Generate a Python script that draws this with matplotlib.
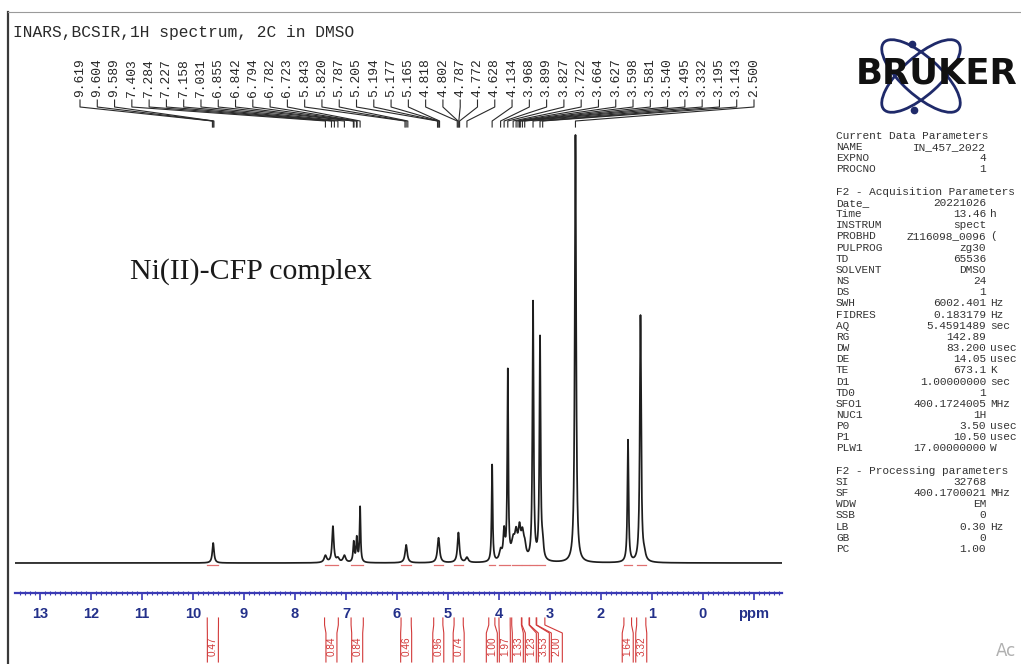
import numpy as np
import matplotlib
matplotlib.use("Agg")
import matplotlib.pyplot as plt
from matplotlib.patches import Ellipse
from matplotlib.ticker import MultipleLocator, FixedLocator, FixedFormatter

# ---------------------------------------------------------------- data
# resolved signals of the 1H spectrum: shift (ppm), height, half width (ppm)
peak_ppm = [9.604, 7.403, 7.256, 7.158, 7.031, 6.848, 6.788, 6.723, 5.820,
            5.185, 4.795, 4.628, 4.134, 3.968, 3.899, 3.827, 3.722, 3.664,
            3.598, 3.540, 3.495, 3.332, 3.195, 3.143, 2.500, 1.470, 1.225,
            1.150]
peak_height = [20, 7, 36, 4, 7, 20, 24, 55, 18,
               25, 30, 5, 97, 10, 28, 188, 18, 22,
               28, 22, 12, 258, 222, 15, 428, 122, 247,
               6]
peak_hwhm = [0.02, 0.03, 0.02, 0.03, 0.03, 0.015, 0.015, 0.012, 0.025,
             0.025, 0.022, 0.03, 0.012, 0.03, 0.02, 0.012, 0.04, 0.03,
             0.03, 0.03, 0.03, 0.014, 0.014, 0.02, 0.016, 0.014, 0.016,
             0.03]

# picked peak list
shift_labels = ["9.619", "9.604", "9.589", "7.403", "7.284", "7.227", "7.158",
                "7.031", "6.855", "6.842", "6.794", "6.782", "6.723", "5.843",
                "5.820", "5.787", "5.205", "5.194", "5.177", "5.165", "4.818",
                "4.802", "4.787", "4.772", "4.628", "4.134", "3.968", "3.899",
                "3.827", "3.722", "3.664", "3.627", "3.598", "3.581", "3.540",
                "3.495", "3.332", "3.195", "3.143", "2.500"]

# integrals: value and ppm range
integral_values = ["0.47", "0.84", "0.84", "0.46", "0.96", "0.74", "1.00",
                   "1.97", "1.33", "1.23", "3.53", "2.00", "1.64", "3.32"]
integral_start = [9.72, 7.42, 6.90, 5.92, 5.28, 4.88, 4.20, 4.00, 3.75, 3.55,
                  3.40, 3.26, 1.55, 1.30]
integral_end = [9.50, 7.15, 6.66, 5.72, 5.10, 4.70, 4.08, 3.78, 3.56, 3.41,
                3.27, 3.10, 1.40, 1.12]

tick_values = [13, 12, 11, 10, 9, 8, 7, 6, 5, 4, 3, 2, 1, 0, -1]
tick_labels = ["13", "12", "11", "10", "9", "8", "7", "6", "5", "4", "3",
               "2", "1", "0", "ppm"]

title_text = "INARS,BCSIR,1H spectrum, 2C in DMSO"
sample_text = "Ni(II)-CFP complex"

param_rows = [
    ("Current Data Parameters", "", ""),
    ("NAME", "IN_457_2022", ""),
    ("EXPNO", "4", ""),
    ("PROCNO", "1", ""),
    None,
    ("F2 - Acquisition Parameters", "", ""),
    ("Date_", "20221026", ""),
    ("Time", "13.46", "h"),
    ("INSTRUM", "spect", ""),
    ("PROBHD", "Z116098_0096", "("),
    ("PULPROG", "zg30", ""),
    ("TD", "65536", ""),
    ("SOLVENT", "DMSO", ""),
    ("NS", "24", ""),
    ("DS", "1", ""),
    ("SWH", "6002.401", "Hz"),
    ("FIDRES", "0.183179", "Hz"),
    ("AQ", "5.4591489", "sec"),
    ("RG", "142.89", ""),
    ("DW", "83.200", "usec"),
    ("DE", "14.05", "usec"),
    ("TE", "673.1", "K"),
    ("D1", "1.00000000", "sec"),
    ("TD0", "1", ""),
    ("SFO1", "400.1724005", "MHz"),
    ("NUC1", "1H", ""),
    ("P0", "3.50", "usec"),
    ("P1", "10.50", "usec"),
    ("PLW1", "17.00000000", "W"),
    None,
    ("F2 - Processing parameters", "", ""),
    ("SI", "32768", ""),
    ("SF", "400.1700021", "MHz"),
    ("WDW", "EM", ""),
    ("SSB", "0", ""),
    ("LB", "0.30", "Hz"),
    ("GB", "0", ""),
    ("PC", "1.00", ""),
]

# ---------------------------------------------------------------- layout
W, H = 1021, 664
fig = plt.figure(figsize=(W / 100, H / 100), dpi=100)
fig.patch.set_facecolor("white")

# overlay in pixel units for frame, logo and parameter block
deco = fig.add_axes([0, 0, 1, 1])
deco.set_xlim(0, W)
deco.set_ylim(H, 0)
deco.axis("off")

AX_L, AX_R, AX_TOP, AX_BOT = 15, 782, 20, 593
BASE_PX = 563
PPM_L, PPM_R = 13.49, -1.55
ax = fig.add_axes([AX_L / W, (H - AX_BOT) / H, (AX_R - AX_L) / W,
                   (AX_BOT - AX_TOP) / H])
ax.patch.set_alpha(0)
ax.set_xlim(PPM_L, PPM_R)
ax.set_ylim(-(AX_BOT - BASE_PX), BASE_PX - AX_TOP)


def px_to_ppm(xp):
    return PPM_L - (xp - AX_L) / (AX_R - AX_L) * (PPM_L - PPM_R)


def ppm_to_px(p):
    return AX_L + (PPM_L - p) / (PPM_L - PPM_R) * (AX_R - AX_L)


def py(ypix):
    # pixel row -> intensity units of the spectrum axes
    return BASE_PX - ypix


# ---------------------------------------------------------------- spectrum
x = np.linspace(PPM_L, PPM_R, 9000)
y = np.zeros_like(x)
for p0, h, w in zip(peak_ppm, peak_height, peak_hwhm):
    y += h * w ** 2 / ((x - p0) ** 2 + w ** 2)
ax.plot(x, y, color="#1e1e1e", lw=1.25, zorder=3)

# integral ranges on the baseline
for a, b in zip(integral_start, integral_end):
    ax.plot([a, b], [-1.5, -1.5], color="#e07070", lw=0.9, zorder=2)

# ---------------------------------------------------------------- x axis
blue = "#3a3ab4"
for s in ["top", "left", "right"]:
    ax.spines[s].set_visible(False)
ax.spines["bottom"].set_color(blue)
ax.spines["bottom"].set_linewidth(1.6)
ax.set_yticks([])
ax.xaxis.set_major_locator(FixedLocator(tick_values))
ax.xaxis.set_major_formatter(FixedFormatter(tick_labels))
ax.xaxis.set_minor_locator(MultipleLocator(0.1))
ax.tick_params(axis="x", which="major", direction="out", length=5, width=1.2,
               color=blue, pad=5, labelsize=10.5, labelcolor="#23308a")
ax.tick_params(axis="x", which="minor", direction="inout", length=3.5,
               width=0.8, color=blue)
for lab in ax.get_xticklabels():
    lab.set_fontweight("bold")
    lab.set_fontfamily("Liberation Sans")

# ---------------------------------------------------------------- peak labels
n = len(shift_labels)
label_px = np.linspace(80, 754, n)
for lx, s in zip(label_px, shift_labels):
    lp = px_to_ppm(lx)
    pp = float(s)
    ax.text(lp, py(97), s, rotation=90, ha="center", va="bottom",
            fontsize=9.4, family="Liberation Mono", color="#262626",
            clip_on=False)
    ax.plot([lp, lp, pp, pp], [py(100), py(107), py(121), py(127)],
            color="#2a2a2a", lw=0.8, clip_on=False, zorder=3)

# ---------------------------------------------------------------- integral labels
centers = [ppm_to_px((a + b) / 2) for a, b in zip(integral_start, integral_end)]
placed = []
for c in centers:
    if placed and c - placed[-1] < 13:
        c = placed[-1] + 13
    placed.append(c)
red = "#d23a3a"
for val, a, b, cx in zip(integral_values, integral_start, integral_end, placed):
    xa, xb = ppm_to_px(a), ppm_to_px(b)
    for edge, body in ((xa, cx - 5.5), (xb, cx + 5.5)):
        deco.plot([edge, edge, body, body], [618, 625, 633, 662],
                  color=red, lw=0.8, clip_on=False)
    deco.text(cx, 646, val, rotation=90, ha="center", va="center",
              fontsize=7.2, family="Liberation Sans", color=red)

# ---------------------------------------------------------------- frame and texts
deco.plot([8, 8], [12, H], color="#3a3a3a", lw=1.6)
deco.plot([8, W], [12, 12], color="#9a9a9a", lw=0.8)
deco.text(13, 33, title_text, ha="left", va="center", fontsize=11.7,
          family="Liberation Mono", color="#2a2a2a")
deco.text(130, 272, sample_text, ha="left", va="center", fontsize=21.5,
          family="Liberation Serif", color="#1a1a1a")

# logo
navy = "#1f2a6a"
deco.add_patch(Ellipse((921, 76), 100, 38, angle=42, fill=False,
                       ec=navy, lw=2.0))
deco.add_patch(Ellipse((921, 76), 100, 38, angle=-42, fill=False,
                       ec=navy, lw=2.0))
deco.plot([912, 914], [44, 110], "o", ms=4.5, color=navy, ls="none")
deco.text(937, 74, "BRUKER", ha="center", va="center", fontsize=25.5,
          fontweight="bold", family="DejaVu Sans", color="#111111")

# parameter block: name column, right-aligned values, unit column
PFONT = 8.0
row_y = 136
for row in param_rows:
    if row is not None:
        name, val, unit = row
        deco.text(836, row_y, name, ha="left", va="center", fontsize=PFONT,
                  family="Liberation Mono", color="#333333")
        if val:
            deco.text(986, row_y, val, ha="right", va="center",
                      fontsize=PFONT, family="Liberation Mono",
                      color="#333333")
        if unit:
            deco.text(990, row_y, unit, ha="left", va="center",
                      fontsize=PFONT, family="Liberation Mono",
                      color="#333333")
    row_y += 11.16

deco.text(996, 651, "Ac", ha="left", va="center", fontsize=12,
          family="DejaVu Sans", color="#b0b0b0")

fig.savefig("out.png", dpi=100)
